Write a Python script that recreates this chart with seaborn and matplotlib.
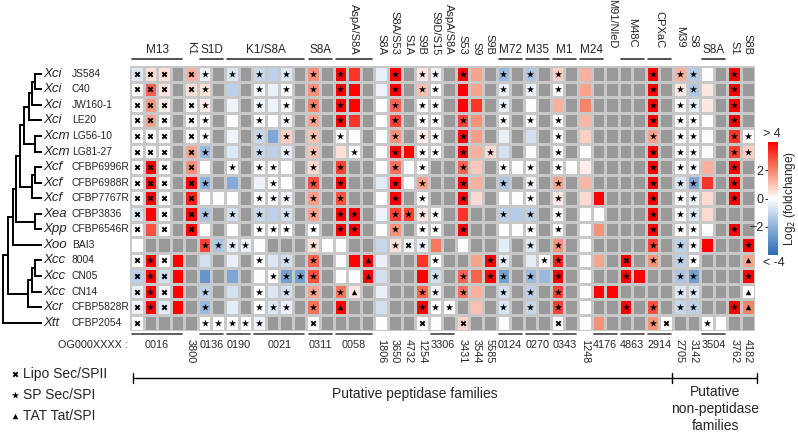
import numpy as np
import pandas as pd
import matplotlib
matplotlib.use('Agg')
import matplotlib.pyplot as plt
import seaborn as sns
from matplotlib.colors import LinearSegmentedColormap

N = np.nan

species = ['Xci', 'Xci', 'Xci', 'Xci', 'Xcm', 'Xcm', 'Xcf', 'Xcf', 'Xcf',
           'Xea', 'Xpp', 'Xoo', 'Xcc', 'Xcc', 'Xcc', 'Xcr', 'Xtt']
strains = ['JS584', 'C40', 'JW160-1', 'LE20', 'LG56-10', 'LG81-27', 'CFBP6996R',
           'CFBP6988R', 'CFBP7767R', 'CFBP3836', 'CFBP6546R', 'BAI3', '8004',
           'CN05', 'CN14', 'CFBP5828R', 'CFBP2054']

# log2(foldchange) per strain, 46 orthogroup columns (nan = gene absent)
js584 = [-0.6, 0.5, 0.5, N, 1.3, -0.3, N, -0.6, N, -1.0,
         -1.2, -0.6, N, 1.8, N, 4, 3.2, N, -0.4, 4,
         N, 0.4, -0.3, N, 4, 1.5, N, -1.8, N, -1.5,
         N, 0.8, N, 1.3, N, N, N, N, 4, N,
         1.3, -1.3, 0, N, 4, N]
c40 = [0, 2.5, 0.4, N, 0.5, 0.5, N, -1.2, N, -0.2,
       -0.4, 0, N, 1.8, N, 4, 4, N, -0.3, 4,
       N, 1.0, 0, N, 4, 1.5, N, -0.4, N, -0.4,
       N, 0, N, 1.5, N, N, N, N, 4, N,
       0.4, -1.5, 0.4, N, 4, N]
jw160 = [0, 1.7, 0.3, N, 0, 0.3, N, -0.3, N, -0.3,
         -0.3, 0, N, 2.0, N, 4, 4, N, 0, 2.5,
         N, 0, 0, N, 4, 3.2, N, -0.4, N, 0,
         N, 1.3, N, 2.0, N, N, N, N, 4, N,
         0, -0.5, 0.4, N, 4, N]
le20 = [0, 1.5, 0, N, 0, 0, N, 0, N, 0,
        0, -0.3, N, 1.5, N, 4, 3.2, N, 0, 3,
        N, 0, 0, N, 3, 1.8, N, 0, N, 0,
        N, 0, N, 1.2, N, N, N, N, 4, N,
        0, 0, 0, N, 4, N]
lg5610 = [0, 0, 0, N, 0, 0, N, -0.3, N, -1.0,
          -2.3, 0.8, N, 1.0, N, 0, 0, N, 0, 1.8,
          N, 0.3, 0, N, 4, 1.6, N, -0.4, N, -0.8,
          N, 0, N, 0.8, N, N, N, N, 1.5, N,
          0, 0, 0, N, 3.2, 0]
lg8127 = [0, 0, 0, N, 1.5, -1.8, N, -0.6, N, -1.0,
          -1.2, -0.5, N, 1.0, N, 0.5, 0, N, 0, 4,
          4, 0, 0, N, 4, 1.3, 0.6, -0.8, N, 0,
          N, 0, N, 0, N, N, N, N, 4, N,
          0, 0, 0, N, 3, 0.8]
p6996 = [0, 4, 0, N, 1.8, 0, N, 0, N, 0,
         0, 0, N, 0.6, N, 3, N, N, 0, 2.3,
         0, 0, N, N, 2.5, 0.9, N, 0, 0, 0,
         N, 0, 0, 0.3, N, N, N, N, 4, N,
         0, 0, 1.3, N, 4, N]
p6988 = [0, 4, 0, N, 4, -2, N, -2.2, N, -0.3,
         0, 0, N, 2.8, N, 4, N, N, -0.5, 4,
         0, 1.5, N, N, 4, 1.3, N, -1.5, N, -0.3,
         N, 1.5, N, 1.2, N, N, N, N, 4, N,
         -0.6, -2.3, 3.2, N, 4, N]
p7767 = [0, 4, 0, N, 3.5, 0, 0, 0, N, 0,
         0, -0.3, N, 1.6, N, 2.8, N, N, 0, 4,
         N, 0, N, N, 4, 0.6, N, 0, 0, 0,
         N, 0.4, N, 0.6, 4, N, N, N, 4, N,
         0, -0.3, 0.6, N, 4, N]
p3836 = [-0.6, 4, 0, N, 4, -1.5, N, -0.8, N, -1.0,
         -1.2, -0.8, N, 1.5, N, 4, 4, N, -0.3, 3,
         3, 0.4, 0, N, 3.2, N, N, -1.2, -1.3, -1.2,
         N, 0, N, 0, 0, N, N, N, 4, N,
         0, -0.6, 0.6, N, N, N]
p6546 = [0, 2.8, 0, N, 4, 0, N, 0, N, 0,
         0, 0, N, 0, N, 4, 4, N, 0, 1.8,
         N, 0, 0, N, 4, N, N, 0, 0, 0,
         N, 0, N, 0, 1.8, N, N, N, 4, N,
         0, 0, 0, N, 4, N]
bai3 = [0, N, N, N, N, 3, -1.5, -0.5, -0.4, 0,
        N, N, N, 0.5, 0, 0, N, N, -1.0, 0.5,
        -0.3, -0.4, 2.2, N, 0, N, N, -0.5, N, -0.6,
        N, 1.8, N, 0, N, N, N, N, 3, N,
        -1.2, 0, 4, N, N, 4]
x8004 = [0, 4, 0, 4, N, -0.8, N, -0.4, N, 0,
         -0.6, -0.8, N, 2.5, N, 0, 4, 4, -0.4, N,
         N, 3.2, 0, N, N, 1.5, 4, -0.5, N, -0.5,
         0, 3.5, N, 0, 1.5, N, 4, N, 1.8, N,
         -1.2, 0, N, N, N, 1.5]
cn05 = [-1.2, 4, -0.8, 4, N, -2.8, N, -2.3, N, 0,
        0, -2.5, -2.5, 2.8, N, 0, 0, 4, -0.8, N,
        N, 4, -0.8, N, 2.5, 2.5, 4, -2.5, N, -1.8,
        -1.8, 4, N, 0, N, N, 4, 4, N, N,
        -1.5, -2.5, N, N, N, 4]
cn14 = [-0.4, 4, -0.2, 4, N, -1.2, N, -0.8, N, 0,
        -0.6, -0.8, N, 1.5, N, 2.3, 0.4, N, -0.4, N,
        N, 2.5, -0.3, N, 2.3, 1.3, N, -0.8, N, -1.2,
        N, 3, N, 0, 4, 4, N, N, N, N,
        -0.6, -0.6, N, N, N, 0]
p5828 = [-0.3, 4, -0.5, 4, N, -1.8, N, -0.5, N, 0,
         -0.6, -0.4, N, 2.3, N, 4, N, N, -0.8, N,
         N, 4, 0, 0, N, 1.0, N, -0.6, N, -1.0,
         N, 3, N, 0, N, N, 4, N, 2.8, N,
         -1.0, -1.2, N, N, 4, 2]
p2054 = [0, N, N, N, N, 0, 0, 0, 0, -0.3,
         N, N, N, 0, N, N, N, N, 0, N,
         N, 0, 0, N, 0.7, N, N, 0, N, N,
         N, 0, N, 0, 1.8, N, N, N, 1.8, 0,
         N, N, 0, 0, N, N]

# signal peptide per cell: x = Lipo Sec/SPII, s = SP Sec/SPI, t = TAT Tat/SPI
sig_rows = [
    "xxx.xs.s.s .s.s.s...s .ss.s..s.s .s......s. ss..s.",
    "xxx.xs...s .s.s.s...s .ss....s.s .s......s. ss..s.",
    "xxx.xs...s .s.s.s...s .ss....s.. ........s. ss..s.",
    "xxx.xs...s .s.s.s...s .ss.s..s.s .s......s. ss..s.",
    "xxx.xs...s .s.s.s...s .ss.s..... .s......s. ss..ss",
    "xxx.xs...s .s.s..s..s .ss.s.s... .s......s. ss..ss",
    "xxx.x..s.s s..s.s...s .s..s..s.s .s......s. ss..s.",
    "xxx.xs.... s..s.s...s .s..s..s.s .s......s. ss..s.",
    "xxx.x....s ss.s.s...s .s..s....s .s......s. ss..s.",
    "x.x.xs.s.s .s.s.ss..s sss....s.s .s......s. ss....",
    "x.x.x....s ss.s.ss..s .ss.s....s .s......s. ss..s.",
    ".....ssss. ...s.....s xs.......s .s......s. ss...s",
    "xsx......s .s.s...t.. ..s...ss.. ss....x.s. ss...t",
    "xsx....... ssss...t.. ..s.s.ss.s .s....s... ss...s",
    "xsx..s...s .s.s.st... .ss.s..s.s .s........ ss...t",
    "xsx..s...s ss.s.t.... .sss...s.s .s....s.s. ss..st",
    "x....sssss ...x...... .x..x..... .x......sx ..s...",
]

# family labels above the columns: (label, first column, span)
families = ['M13', 'K1', 'S1D', 'K1/S8A', 'S8A', 'AspA/S8A', 'S8A', 'S8A/S53', 'S1A',
            'S9B', 'S9D/S15', 'AspA/S8A', 'S53', 'S9', 'S9B', 'M72', 'M35', 'M1', 'M24',
            'M91/NleD', 'M48C', 'CPXaC', 'M39', 'S8', 'S8A', 'S1', 'S8B']
fam_start = [1, 5, 6, 8, 14, 16, 19, 20, 21, 22, 23, 24, 25, 26, 27, 28, 30, 32, 34,
             36, 37, 39, 41, 42, 43, 45, 46]
fam_span = [4, 1, 2, 6, 2, 3, 1, 1, 1, 1, 1, 1, 1, 1, 1, 2, 2, 2, 2,
            1, 2, 2, 1, 1, 2, 1, 1]
fam_rot = {'K1', 'AspA/S8A', 'M48C', 'CPXaC'}

# orthogroup labels below the columns
ogs = ['0016', '3800', '0136', '0190', '0021', '0311', '0058', '1806', '3650', '4732',
       '1254', '3306', '3431', '3544', '5585', '0124', '0270', '0343', '1248', '4176',
       '4863', '2914', '2705', '3142', '3504', '3762', '4182']
og_start = [1, 5, 6, 8, 10, 14, 16, 19, 20, 21, 22, 23, 25, 26, 27, 28, 30, 32, 34, 35,
            37, 39, 41, 42, 43, 45, 46]
og_span = [4, 1, 2, 2, 4, 2, 3, 1, 1, 1, 1, 2, 1, 1, 1, 2, 2, 2, 1, 2,
           2, 2, 1, 1, 2, 1, 1]

# dendrogram: (node depth in px, children); ints are leaf rows
tree = (3, [(8, [(13, [(16, [(20, [(24, [(29, [(32, [(35, [0, 1]), 2]), 3]),
                                          (35, [4, 5])]),
                                   (32, [(35, [6, 7]), 8])]),
                             (35, [9, 10])]),
                       11]),
                 (28, [(32, [(35, [12, 13]), 14]), 15])]),
            16])

values = [js584, c40, jw160, le20, lg5610, lg8127, p6996, p6988, p7767,
          p3836, p6546, bai3, x8004, cn05, cn14, p5828, p2054]
data = pd.DataFrame(values, index=strains, columns=range(1, 47))

sns.set_style('white')
plt.rcParams['font.family'] = ['Liberation Sans', 'DejaVu Sans']

cmap = LinearSegmentedColormap.from_list(
    'bwr2', [(0, '#2b6cb3'), (0.25, '#8eb1da'), (0.5, '#ffffff'),
             (0.75, '#f6866a'), (1, '#ff0000')])

fig = plt.figure(figsize=(7.98, 4.32), dpi=100)
ov = fig.add_axes([0, 0, 1, 1])
ov.set_xlim(0, 798)
ov.set_ylim(432, 0)
ov.axis('off')

top, rowh = 66.0, 264.5 / 17
ax = fig.add_axes([130 / 798, 1 - 330.5 / 432, 624.5 / 798, 264.5 / 432])
cax = fig.add_axes([768 / 798, 1 - 255 / 432, 10 / 798, 113 / 432])

sns.heatmap(data, mask=data.isna(), cmap=cmap, vmin=-4, vmax=4, linewidths=0.8,
            linecolor='#c8c8c8', ax=ax, cbar_ax=cax, xticklabels=False, yticklabels=False)
ax.set_facecolor('#999999')

# signal peptide markers
styles = {'x': dict(marker='x', s=10, linewidths=1.4),
          's': dict(marker='*', s=30, linewidths=0),
          't': dict(marker='^', s=15, linewidths=0)}
for code, st in styles.items():
    xs, ys = [], []
    for i, row in enumerate(sig_rows):
        for j, ch in enumerate(row.replace(' ', '')):
            if ch == code:
                xs.append(j + 0.5)
                ys.append(i + 0.5)
    ax.scatter(xs, ys, color='black', zorder=3, **st)

def py(p):
    return (p - top) / rowh

# family labels
for lab, s0, sp in zip(families, fam_start, fam_span):
    xc = s0 - 1 + sp / 2
    if sp > 1:
        ax.plot([s0 - 1 + 0.15, s0 - 1 + sp - 0.15], [py(59), py(59)], color='#333333',
                lw=1.2, clip_on=False)
    if sp == 1 or lab in fam_rot:
        yb = 48 if 36 <= s0 <= 42 else 55
        ax.text(xc, py(yb), lab, rotation=270, ha='center', va='bottom', fontsize=8,
                clip_on=False)
    else:
        ax.text(xc, py(50), lab, ha='center', va='center', fontsize=8.5, clip_on=False)

# orthogroup labels
for lab, s0, sp in zip(ogs, og_start, og_span):
    xc = s0 - 1 + sp / 2
    if sp > 1:
        ax.plot([s0 - 1 + 0.15, s0 - 1 + sp - 0.15], [py(334), py(334)], color='#444444',
                lw=1.2, clip_on=False)
        ax.text(xc, py(345), lab, ha='center', va='center', fontsize=7.8, clip_on=False)
    else:
        ax.text(xc, py(339), lab, rotation=270, ha='center', va='top', fontsize=7.8,
                clip_on=False)
ov.text(128, 345, 'OG000XXXX :', ha='right', va='center', fontsize=7.8)

# colorbar
cbar = ax.collections[0].colorbar
cbar.set_ticks([-2, 0, 2])
cbar.outline.set_visible(False)
cax.yaxis.set_ticks_position('left')
cax.tick_params(labelsize=9, length=2.5, width=0.8, pad=1)
cax.text(0.4, 1.02, '> 4', transform=cax.transAxes, ha='center', va='bottom', fontsize=9)
cax.text(0.6, -0.02, '< -4', transform=cax.transAxes, ha='center', va='top', fontsize=9)
cax.text(2.2, 0.5, 'Log$_2$ (foldchange)', transform=cax.transAxes, rotation=90,
         ha='center', va='center', fontsize=8.5)

# dendrogram and strain labels
leaf_y = [top + (i + 0.5) * rowh for i in range(len(strains))]

def draw(node):
    if isinstance(node, int):
        return leaf_y[node], 42
    x, kids = node
    ys = []
    for k in kids:
        yk, xk = draw(k)
        ov.plot([x, xk], [yk, yk], color='black', lw=1.4, solid_capstyle='butt')
        ys.append(yk)
    ov.plot([x, x], [min(ys), max(ys)], color='black', lw=1.4, solid_capstyle='projecting')
    return (min(ys) + max(ys)) / 2, x

draw(tree)
for y, sp, st in zip(leaf_y, species, strains):
    ov.text(43, y, sp, style='italic', fontsize=9.5, va='center', ha='left')
    ov.text(72, y, st, fontsize=7.4, va='center', ha='left')

# legend
leg_labels = ['Lipo Sec/SPII', 'SP Sec/SPI', 'TAT Tat/SPI']
for (code, st), y, lab in zip(styles.items(), [374, 395, 416], leg_labels):
    ov.scatter([15], [y], color='black', **st)
    ov.text(23, y, lab, fontsize=10, va='center', ha='left')

# family bracket
ov.plot([133, 757], [378, 378], color='black', lw=1)
for xt in [133, 672, 757]:
    ov.plot([xt, xt], [373, 383], color='black', lw=1)
ov.text(415, 394, 'Putative peptidase families', fontsize=10, ha='center', va='center')
for y, t in zip([392, 409, 426], ['Putative', 'non-peptidase', 'families']):
    ov.text(715, y, t, fontsize=10, ha='center', va='center')

fig.savefig('out.png', dpi=100)
